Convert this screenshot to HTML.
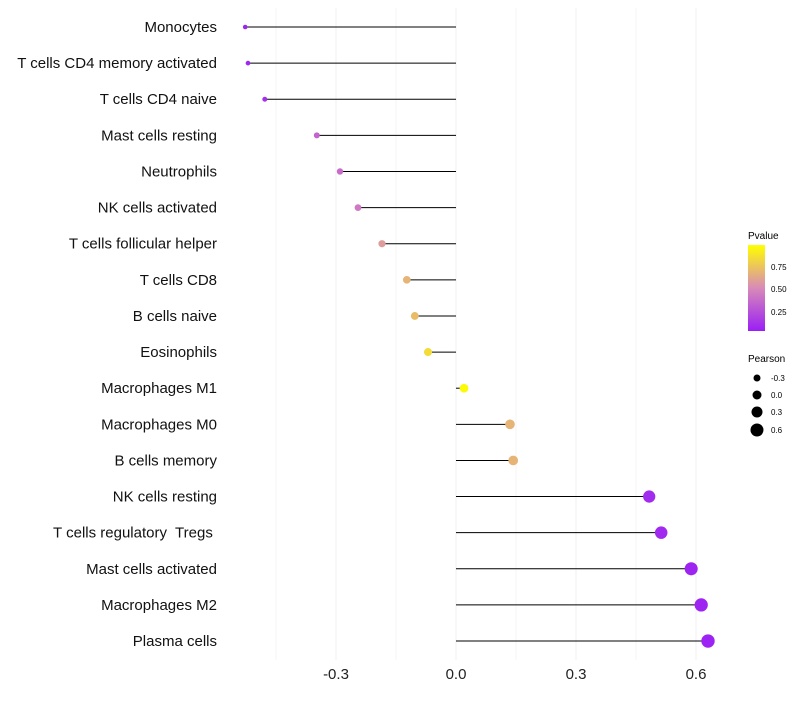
<!DOCTYPE html>
<html><head><meta charset="utf-8"><style>
body{margin:0;background:#fff;font-family:"Liberation Sans",sans-serif}
svg text{font-family:"Liberation Sans",sans-serif;white-space:pre}
</style></head><body>
<svg id="c" width="800" height="700" xmlns="http://www.w3.org/2000/svg">
<defs><linearGradient id="pg" x1="0" y1="1" x2="0" y2="0">
<stop offset="0" stop-color="#9a1ff5"/><stop offset="0.5" stop-color="#d88ab8"/><stop offset="1" stop-color="#ffff00"/>
</linearGradient></defs>
<g id="grid"></g><g id="marks"></g><g id="labels"></g>
<g>
<text x="748" y="239" font-size="10">Pvalue</text>
<rect x="748" y="245" width="17" height="86" fill="url(#pg)"/>
<text x="771" y="270" font-size="8">0.75</text>
<text x="771" y="292" font-size="8">0.50</text>
<text x="771" y="315" font-size="8">0.25</text>
</g>
<g>
<text x="748" y="362" font-size="10">Pearson</text>
<circle cx="757" cy="378" r="3.5"/><text x="771" y="381" font-size="8">-0.3</text>
<circle cx="757" cy="395" r="4.5"/><text x="771" y="398" font-size="8">0.0</text>
<circle cx="757" cy="412" r="5.5"/><text x="771" y="415" font-size="8">0.3</text>
<circle cx="757" cy="430" r="6.5"/><text x="771" y="433" font-size="8">0.6</text>
</g>
</svg>
<script>
const categories=["Monocytes","T cells CD4 memory activated","T cells CD4 naive","Mast cells resting","Neutrophils","NK cells activated","T cells follicular helper","T cells CD8","B cells naive","Eosinophils","Macrophages M1","Macrophages M0","B cells memory","NK cells resting","T cells regulatory  Tregs ","Mast cells activated","Macrophages M2","Plasma cells"];
const pearson=[-0.527,-0.52,-0.478,-0.348,-0.29,-0.245,-0.185,-0.123,-0.103,-0.07,0.02,0.135,0.143,0.483,0.513,0.588,0.613,0.63];
const pvalue=[0.03,0.04,0.08,0.32,0.36,0.42,0.58,0.68,0.72,0.85,0.98,0.68,0.68,0.06,0.05,0.03,0.03,0.02];
const xTicks=[-0.3,0,0.3,0.6];
const xTickLabels=["-0.3","0.0","0.3","0.6"];
const NS="http://www.w3.org/2000/svg";
const xs=v=>456+v*400;
const ys=i=>27+i*36.12;
const rs=v=>4.3+v*3.8;
function col(p){
 const s=[[0,[154,31,245]],[0.5,[216,138,184]],[1,[255,255,0]]];
 let a=s[0],b=s[1];if(p>0.5){a=s[1];b=s[2];}
 const t=(p-a[0])/(b[0]-a[0]);
 return "rgb("+a[1].map((c,k)=>Math.round(c+(b[1][k]-c)*t)).join(",")+")";
}
function mk(t,at,parent){const e=document.createElementNS(NS,t);for(const k in at)e.setAttribute(k,at[k]);parent.appendChild(e);return e;}
const grid=document.getElementById("grid"),marks=document.getElementById("marks"),labels=document.getElementById("labels");
for(let v=-0.45;v<=0.66;v+=0.15){
 const g=mk("line",{x1:xs(v),x2:xs(v),y1:8,y2:660,stroke:"#f0f0f0","stroke-width":Math.abs(Math.round(v/0.15))%2==0?1:0.6},grid);
 
 
}
xTicks.forEach((v,i)=>{
 const t=mk("text",{x:xs(v),y:679,"font-size":15,"text-anchor":"middle",fill:"#222"},labels);
 t.textContent=xTickLabels[i];
 
 
});
categories.forEach((c,i)=>{
 const y=ys(i);
 const t=mk("text",{x:217,y:y+5,"font-size":15,"text-anchor":"end",fill:"#111"},labels);
 t.textContent=c;
 
 
 const l=mk("line",{x1:xs(0),x2:xs(pearson[i]),y1:y,y2:y,stroke:"#000","stroke-width":1},marks);
 
 
 const p=mk("circle",{cx:xs(pearson[i]),cy:y,r:rs(pearson[i]),fill:col(pvalue[i])},marks);
 
 
});
</script>
</body></html>
